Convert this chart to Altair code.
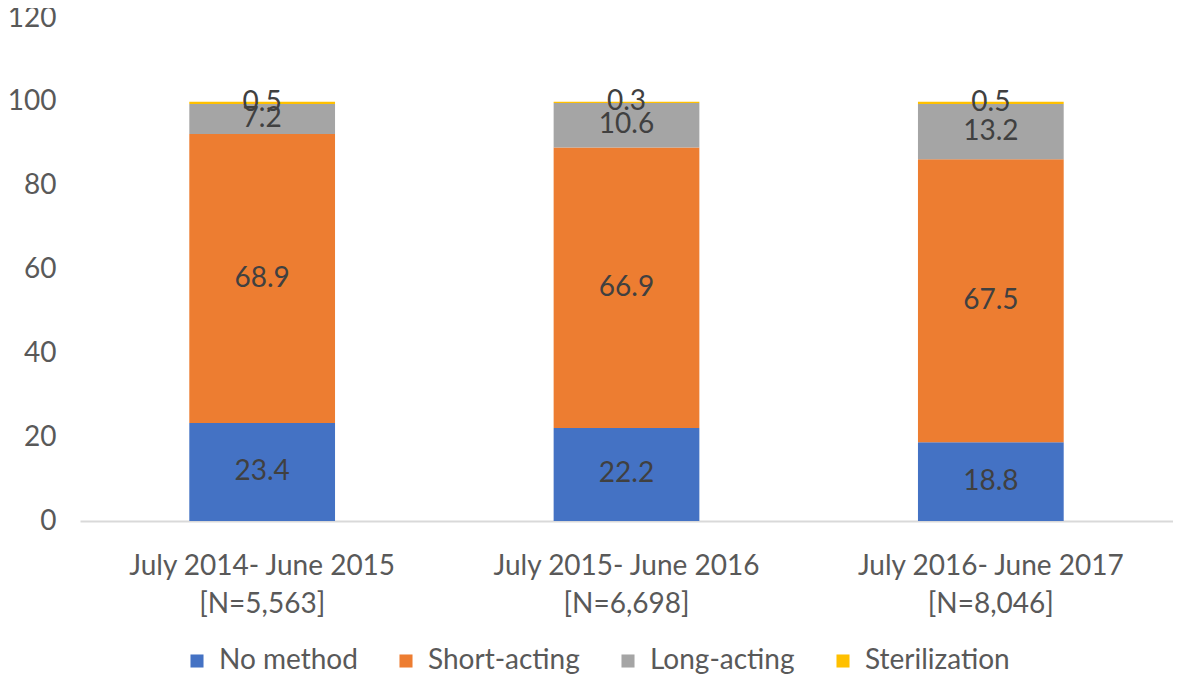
import altair as alt
import pandas as pd

periods = ["July 2014- June 2015|[N=5,563]",
           "July 2015- June 2016|[N=6,698]",
           "July 2016- June 2017|[N=8,046]"]
methods = ["No method", "Short-acting", "Long-acting", "Sterilization"]
colors = ["#4472C4", "#ED7D31", "#A5A5A5", "#FFC000"]
no_method = [23.4, 22.2, 18.8]
short_acting = [68.9, 66.9, 67.5]
long_acting = [7.2, 10.6, 13.2]
sterilization = [0.5, 0.3, 0.5]

series = [no_method, short_acting, long_acting, sterilization]
rows = []
for i, p in enumerate(periods):
    for k, m in enumerate(methods):
        rows.append({"period": p, "method": m, "value": series[k][i], "order": k})
df = pd.DataFrame(rows)

FONT = "Lato"
FS = 28

x = alt.X("period:N", sort=periods, title=None,
          scale=alt.Scale(paddingInner=0.6, paddingOuter=0.3),
          axis=alt.Axis(labelExpr="split(datum.label, '|')", labelAngle=0,
                        labelFontSize=FS, labelColor="#595959", labelFont=FONT,
                        labelLineHeight=38, labelPadding=31, ticks=False,
                        labelLimit=0,
                        domainColor="#D9D9D9", domainWidth=2, grid=False))

bars = alt.Chart(df).mark_bar().encode(
    x=x,
    y=alt.Y("value:Q", stack="zero", title=None,
            scale=alt.Scale(domain=[0, 120]),
            axis=alt.Axis(values=[0, 20, 40, 60, 80, 100, 120], grid=False,
                          domain=False, ticks=False, labelFontSize=FS,
                          labelColor="#595959", labelFont=FONT, labelPadding=24)),
    color=alt.Color("method:N", sort=methods,
                    scale=alt.Scale(domain=methods, range=colors),
                    legend=alt.Legend(title=None, orient="none", direction="horizontal",
                                      legendX=103, legendY=629, columns=4,
                                      labelFontSize=FS, labelColor="#595959",
                                      labelFont=FONT, symbolType="square",
                                      symbolSize=170, symbolStrokeWidth=0,
                                      labelLimit=0,
                                      columnPadding=34, labelOffset=8)),
    order=alt.Order("order:Q"),
)

labels = alt.Chart(df).transform_stack(
    stack="value", groupby=["period"], as_=["v0", "v1"],
    sort=[alt.SortField("order", order="ascending")]
).transform_calculate(
    mid="(datum.v0 + datum.v1) / 2"
).mark_text(fontSize=FS, color="#404040", font=FONT, baseline="middle").encode(
    x=alt.X("period:N", sort=periods),
    y=alt.Y("mid:Q"),
    text=alt.Text("value:Q", format=".1f"),
)

chart = alt.layer(bars, labels).properties(
    width=1093, height=503,
    autosize=alt.AutoSizeParams(type="none"),
    padding={"left": 72, "top": 10, "right": 0, "bottom": 155},
).configure_view(stroke=None)

chart.save("out.html", embed_options={"renderer": "svg", "actions": False})
